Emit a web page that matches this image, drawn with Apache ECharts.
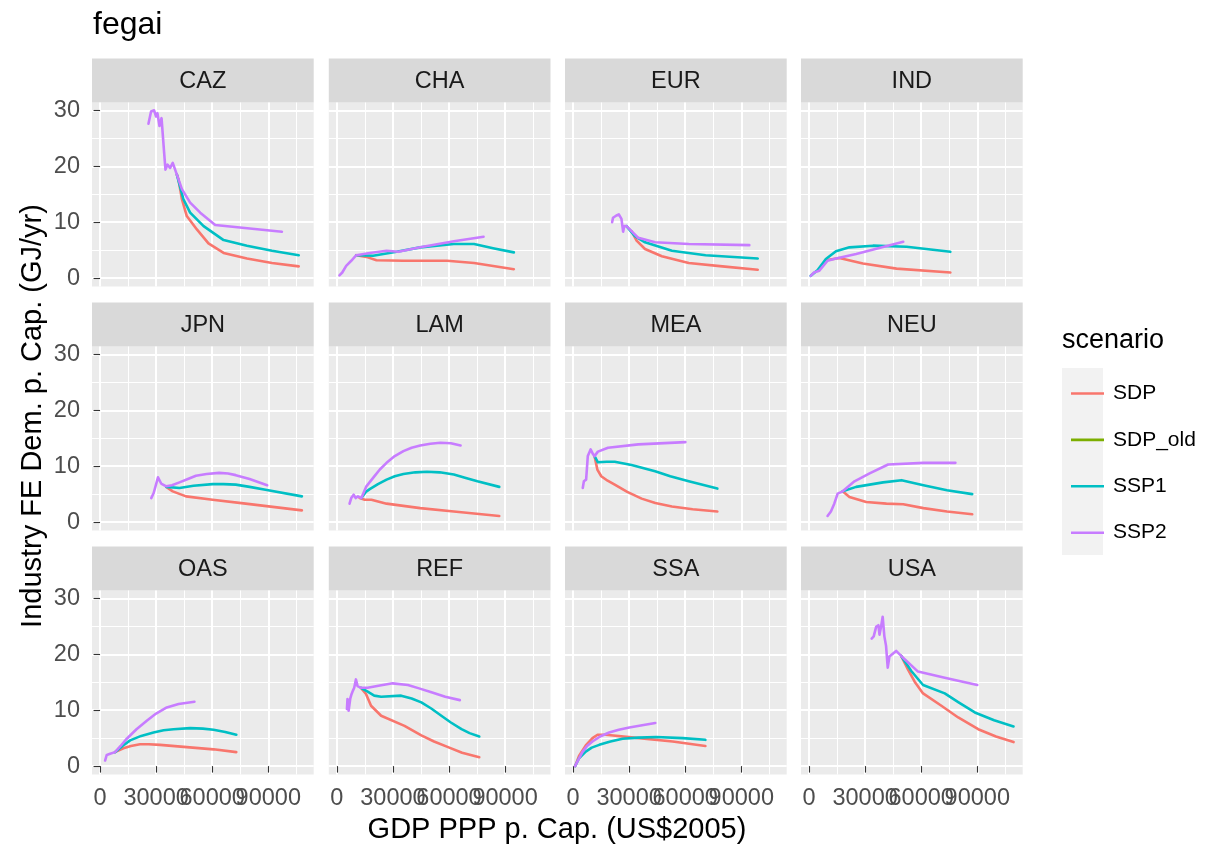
<!DOCTYPE html>
<html>
<head>
<meta charset="utf-8">
<script src="https://cdn.jsdelivr.net/npm/echarts@6/dist/echarts.min.js"></script>
<style>html,body{margin:0;padding:0;background:#fff;}#chart{width:1232px;height:849px;}</style>
</head>
<body>
<div id="chart"></div>
<script>
// ---------- data ----------
const regions = ['CAZ','CHA','EUR','IND','JPN','LAM','MEA','NEU','OAS','REF','SSA','USA'];
const scenarios = ['SDP','SDP_old','SSP1','SSP2'];
const scenarioColors = ['#F8766D','#7CAE00','#00BFC4','#C77CFF'];
const xTicks = [0,30000,60000,90000];
const xTickLabelsA = [0,60000];       // drawn by the major axis
const xTickLabelsB = [30000,90000];   // drawn by the minor axis (avoids auto-hiding of overlapping labels)
const xMinorTicks = [15000,45000,75000,105000];
const yTicks = [0,10,20,30];
const yMinorTicks = [5,15,25];
const chartTitle = 'fegai';
const xTitle = 'GDP PPP p. Cap. (US$2005)';
const yTitle = 'Industry FE Dem. p. Cap. (GJ/yr)';
const legendTitle = 'scenario';

const CAZ_SDP  = [[41100,18.5],[42000,17.6],[43800,14.1],[46400,11.1],[51800,8.7],[58000,6.2],[66100,4.5],[78600,3.5],[92000,2.7],[106300,2.1]];
const CAZ_SSP1 = [[41100,18.5],[44600,14.1],[48200,11.7],[55400,9.3],[66100,6.8],[78600,5.8],[92000,4.9],[106300,4.1]];
const CAZ_SSP2 = [[25900,27.6],[27300,29.8],[28900,30.0],[30000,28.9],[30700,29.5],[31800,27.2],[32900,28.6],[33600,28.3],[34300,22.4],[35000,19.4],[36100,20.3],[37500,19.7],[38900,20.6],[41100,18.5],[43800,15.9],[48200,13.5],[53600,11.7],[61600,9.5],[97300,8.3]];

const CHA_SDP  = [[10400,4.1],[15800,3.8],[21200,3.2],[35600,3.1],[59000,3.1],[73400,2.7],[94700,1.6]];
const CHA_SSP1 = [[10400,4.1],[19400,4.0],[32000,4.7],[44600,5.5],[62600,6.1],[73400,6.1],[84200,5.3],[94700,4.6]];
const CHA_SSP2 = [[1400,0.5],[2900,1.0],[5000,2.2],[7700,3.1],[10400,4.1],[17600,4.5],[26600,4.9],[32900,4.7],[44600,5.5],[62600,6.6],[78500,7.4]];

const EUR_SDP  = [[31300,8.4],[34000,6.7],[38500,5.2],[47500,3.9],[61900,2.7],[79900,2.1],[98800,1.5]];
const EUR_SSP1 = [[28600,9.3],[33100,7.5],[38500,6.4],[52900,4.9],[70900,4.1],[98800,3.5]];
const EUR_SSP2 = [[20900,10.0],[21400,10.8],[23200,11.2],[24500,11.4],[25900,10.6],[26800,8.3],[27400,9.3],[28600,9.3],[31300,8.4],[34900,7.2],[43900,6.4],[61900,6.1],[94300,5.9]];

const IND_SDP  = [[9000,3.2],[16200,3.6],[28800,2.6],[46800,1.7],[75600,1.0]];
const IND_SSP1 = [[900,0.4],[4500,1.4],[9000,3.4],[14400,4.8],[21600,5.5],[34200,5.8],[52200,5.6],[75600,4.7]];
const IND_SSP2 = [[900,0.4],[2700,1.0],[5400,1.3],[9900,3.1],[14400,3.5],[25200,4.3],[50400,6.5]];

const JPN_SDP  = [[35400,6.3],[38900,5.5],[46000,4.6],[60200,4.0],[77900,3.3],[108000,2.1]];
const JPN_SSP1 = [[35400,6.3],[42500,6.1],[50000,6.5],[60200,6.8],[66000,6.8],[72600,6.7],[80000,6.3],[88500,5.8],[108000,4.6]];
const JPN_SSP2 = [[27400,4.3],[28700,5.2],[31000,8.0],[32700,6.9],[35400,6.4],[38500,6.6],[42500,7.1],[47000,7.7],[51300,8.3],[57000,8.6],[63700,8.8],[68500,8.7],[72600,8.4],[80000,7.7],[89400,6.6]];

const LAM_SDP  = [[12200,4.3],[14900,4.0],[18500,4.0],[26600,3.3],[44600,2.5],[62600,1.9],[86900,1.1]];
const LAM_SSP1 = [[13100,4.3],[15500,5.4],[17600,5.9],[22000,6.8],[26600,7.6],[31000,8.2],[35600,8.6],[42000,8.9],[48200,9.0],[55000,8.9],[62600,8.5],[69000,7.9],[75200,7.3],[86900,6.3]];
const LAM_SSP2 = [[6800,3.3],[7700,4.3],[9000,4.9],[10100,4.3],[11300,4.6],[13100,4.3],[15800,6.4],[19400,7.9],[23000,9.4],[26600,10.6],[31000,11.8],[35600,12.7],[40000,13.3],[44600,13.7],[50000,14.0],[55400,14.2],[61000,14.1],[66200,13.7]];

const MEA_SDP  = [[11500,11.8],[13000,9.4],[15100,8.2],[18500,7.4],[22300,6.7],[29000,5.4],[36700,4.2],[44000,3.4],[52900,2.8],[64000,2.3],[77200,1.9]];
const MEA_SSP1 = [[11500,11.8],[13300,10.7],[18000,10.8],[22300,10.8],[31300,10.2],[43900,9.1],[52000,8.2],[61900,7.3],[77200,6.0]];
const MEA_SSP2 = [[5200,6.1],[5800,7.3],[7000,7.6],[7900,11.8],[9400,13.0],[10600,12.2],[11500,11.8],[13300,12.6],[18700,13.3],[34900,13.9],[60100,14.3]];

const NEU_SDP  = [[18000,5.5],[21600,4.5],[30600,3.6],[41400,3.3],[50400,3.2],[61200,2.5],[73800,1.9],[87300,1.4]];
const NEU_SSP1 = [[18000,5.5],[25200,6.3],[39600,7.1],[49500,7.5],[61200,6.6],[73800,5.7],[87300,5.0]];
const NEU_SSP2 = [[9900,1.1],[11700,1.9],[13500,3.3],[15300,5.1],[18000,5.5],[24300,7.3],[32400,8.7],[42300,10.3],[61200,10.6],[78300,10.6]];

const OAS_SDP  = [[8000,2.5],[12500,3.2],[16500,3.6],[21400,3.9],[26000,3.9],[32100,3.8],[46400,3.4],[60700,3.0],[72900,2.5]];
const OAS_SSP1 = [[8000,2.5],[12000,3.6],[16100,4.6],[22000,5.4],[28600,6.0],[34000,6.4],[39300,6.6],[48200,6.8],[55000,6.7],[60700,6.5],[67000,6.1],[72900,5.6]];
const OAS_SSP2 = [[2700,1.0],[3600,2.0],[5400,2.2],[8000,2.5],[11000,3.6],[14300,4.9],[19500,6.6],[25000,8.1],[30000,9.4],[35700,10.5],[42000,11.1],[50500,11.5]];

const REF_SDP  = [[12900,14.0],[15600,12.9],[18300,10.8],[23700,9.0],[36200,7.2],[45200,5.5],[52000,4.4],[59500,3.4],[67000,2.4],[76200,1.6]];
const REF_SSP1 = [[12900,14.0],[16500,13.3],[20000,12.6],[23700,12.4],[34400,12.6],[40000,12.1],[45200,11.4],[50500,10.3],[55900,9.0],[61000,7.8],[66700,6.6],[71000,5.9],[76200,5.3]];
const REF_SSP2 = [[5400,10.2],[5700,12.0],[6300,9.9],[7200,12.1],[7900,12.9],[8600,13.5],[9300,14.0],[10200,15.5],[11100,14.3],[12900,14.0],[16500,14.0],[23000,14.4],[29900,14.8],[38000,14.5],[44000,13.9],[50600,13.2],[58000,12.4],[65800,11.8]];

const SSA_SDP  = [[1100,0.0],[3200,1.8],[6800,3.7],[10400,5.0],[13100,5.6],[17500,5.6],[35400,5.0],[53300,4.4],[70800,3.6]];
const SSA_SSP1 = [[1100,0.0],[3200,1.4],[6800,2.6],[10000,3.3],[14000,3.8],[20000,4.4],[26500,4.9],[35000,5.1],[44400,5.2],[58700,5.0],[70800,4.7]];
const SSA_SSP2 = [[1100,0.0],[2300,0.8],[5000,2.5],[7500,3.6],[10400,4.4],[14500,5.3],[19300,6.0],[24500,6.5],[30100,6.9],[37000,7.3],[44000,7.7]];

const USA_SDP  = [[49300,19.7],[52900,17.3],[56500,15.1],[61000,13.0],[70800,10.8],[79800,8.7],[90500,6.6],[100000,5.3],[109400,4.3]];
const USA_SSP1 = [[49300,19.7],[54700,17.0],[61000,14.5],[72600,13.0],[80000,11.4],[88700,9.6],[99000,8.2],[109400,7.1]];
const USA_SSP2 = [[33500,22.8],[34600,23.2],[35900,24.9],[37100,25.2],[37700,23.5],[38500,24.9],[39400,26.7],[40300,23.2],[41200,21.5],[42100,17.6],[43000,19.6],[46600,20.6],[49300,19.7],[58300,16.9],[72600,15.8],[90000,14.5]];

const SDP_old_data = []; // present in legend only

// ---------- layout ----------
const colLeft = [92, 328.8, 565, 801];
const rowTop = [102.5, 346.5, 590.5];
const panelW = 221.7, panelH = 184, stripH = 44;
const xMin = -4300, xMax = 114300, yMin = -1.5, yMax = 31.4;
const FONT = '"Liberation Sans", Arial, Helvetica, sans-serif';

const lookup = {
  CAZ:{SDP:CAZ_SDP,SSP1:CAZ_SSP1,SSP2:CAZ_SSP2}, CHA:{SDP:CHA_SDP,SSP1:CHA_SSP1,SSP2:CHA_SSP2},
  EUR:{SDP:EUR_SDP,SSP1:EUR_SSP1,SSP2:EUR_SSP2}, IND:{SDP:IND_SDP,SSP1:IND_SSP1,SSP2:IND_SSP2},
  JPN:{SDP:JPN_SDP,SSP1:JPN_SSP1,SSP2:JPN_SSP2}, LAM:{SDP:LAM_SDP,SSP1:LAM_SSP1,SSP2:LAM_SSP2},
  MEA:{SDP:MEA_SDP,SSP1:MEA_SSP1,SSP2:MEA_SSP2}, NEU:{SDP:NEU_SDP,SSP1:NEU_SSP1,SSP2:NEU_SSP2},
  OAS:{SDP:OAS_SDP,SSP1:OAS_SSP1,SSP2:OAS_SSP2}, REF:{SDP:REF_SDP,SSP1:REF_SSP1,SSP2:REF_SSP2},
  SSA:{SDP:SSA_SDP,SSP1:SSA_SSP1,SSP2:SSA_SSP2}, USA:{SDP:USA_SDP,SSP1:USA_SSP1,SSP2:USA_SSP2}
};

const grids = [], xAxes = [], yAxes = [], series = [], graphics = [];
const labelStyle = {color: '#4D4D4D', fontSize: 23.5, fontFamily: FONT, margin: 12, hideOverlap: false,
  showMinLabel: true, showMaxLabel: true, interval: 0, formatter: v => String(v)};
regions.forEach((reg, i) => {
  const c = i % 4, r = Math.floor(i / 4);
  grids.push({left: colLeft[c], top: rowTop[r], width: panelW, height: panelH,
    show: true, backgroundColor: '#EBEBEB', borderWidth: 0, containLabel: false});
  const bottomRow = r === 2, leftCol = c === 0;
  xAxes.push({gridIndex: i, type: 'value', position: 'bottom', offset: 0, min: xMin, max: xMax,
    axisLine: {show: false},
    axisTick: {show: bottomRow, customValues: xTicks, length: 6.5, lineStyle: {color: '#333333', width: 1.1}},
    axisLabel: Object.assign({}, labelStyle, {show: bottomRow, customValues: xTickLabelsA}),
    splitLine: {show: true, lineStyle: {color: '#FFFFFF', width: 2}}});
  xAxes.push({gridIndex: i, type: 'value', position: 'bottom', offset: 0, min: xMin, max: xMax,
    axisLine: {show: false}, axisTick: {show: false, customValues: xMinorTicks},
    axisLabel: Object.assign({}, labelStyle, {show: bottomRow, customValues: xTickLabelsB}),
    splitLine: {show: true, lineStyle: {color: '#FFFFFF', width: 1}}});
  yAxes.push({gridIndex: i, type: 'value', position: 'left', offset: 0, min: yMin, max: yMax,
    axisLine: {show: false},
    axisTick: {show: leftCol, customValues: yTicks, length: 6.5, lineStyle: {color: '#333333', width: 1.1}},
    axisLabel: Object.assign({}, labelStyle, {show: leftCol, customValues: yTicks}),
    splitLine: {show: true, lineStyle: {color: '#FFFFFF', width: 2}}});
  yAxes.push({gridIndex: i, type: 'value', position: 'left', offset: 0, min: yMin, max: yMax,
    axisLine: {show: false}, axisTick: {show: false, customValues: yMinorTicks},
    axisLabel: {show: false, customValues: yMinorTicks},
    splitLine: {show: true, lineStyle: {color: '#FFFFFF', width: 1}}});

  scenarios.forEach((sc, k) => {
    const d = sc === 'SDP_old' ? SDP_old_data : lookup[reg][sc];
    series.push({name: sc, type: 'line', xAxisIndex: 2 * i, yAxisIndex: 2 * i, data: d,
      symbol: 'none', smooth: false, z: 2 + k,
      lineStyle: {color: scenarioColors[k], width: 2.6, join: 'round', cap: 'round'},
      itemStyle: {color: scenarioColors[k]}});
  });

  graphics.push({type: 'rect', shape: {x: colLeft[c], y: rowTop[r] - stripH, width: panelW, height: stripH},
    style: {fill: '#D9D9D9'}, silent: true});
  graphics.push({type: 'text', x: colLeft[c] + panelW / 2, y: rowTop[r] - stripH / 2 + 1,
    style: {text: reg, fill: '#1A1A1A', font: '23.5px ' + FONT, textAlign: 'center', textVerticalAlign: 'middle'}, silent: true});
});

graphics.push({type: 'text', x: 93, y: 25, style: {text: chartTitle, fill: '#000', font: '32px ' + FONT,
  textAlign: 'left', textVerticalAlign: 'middle'}});
graphics.push({type: 'text', x: 557, y: 830, style: {text: xTitle, fill: '#000', font: '29px ' + FONT,
  textAlign: 'center', textVerticalAlign: 'middle'}});
graphics.push({type: 'text', x: 33, y: 416, rotation: Math.PI / 2, style: {text: yTitle, fill: '#000', font: '29px ' + FONT,
  textAlign: 'center', textVerticalAlign: 'middle'}});
graphics.push({type: 'text', x: 1062, y: 341, style: {text: legendTitle, fill: '#000', font: '27px ' + FONT,
  textAlign: 'left', textVerticalAlign: 'middle'}});
graphics.push({type: 'rect', shape: {x: 1062, y: 368, width: 41, height: 187}, style: {fill: '#F2F2F2'}, silent: true, z: -1});

const option = {
  animation: false,
  backgroundColor: '#FFFFFF',
  grid: grids, xAxis: xAxes, yAxis: yAxes, series: series,
  legend: {data: scenarios, orient: 'vertical', left: 1066, top: 378, itemWidth: 33, itemHeight: 2.6, itemGap: 25.4,
    icon: 'rect', selectedMode: false,
    textStyle: {fontSize: 21, fontFamily: FONT, color: '#000', padding: [0, 0, 0, 4]}},
  graphic: graphics
};
const chart = echarts.init(document.getElementById('chart'), null, {renderer: 'canvas'});
chart.setOption(option);
</script>
</body>
</html>
